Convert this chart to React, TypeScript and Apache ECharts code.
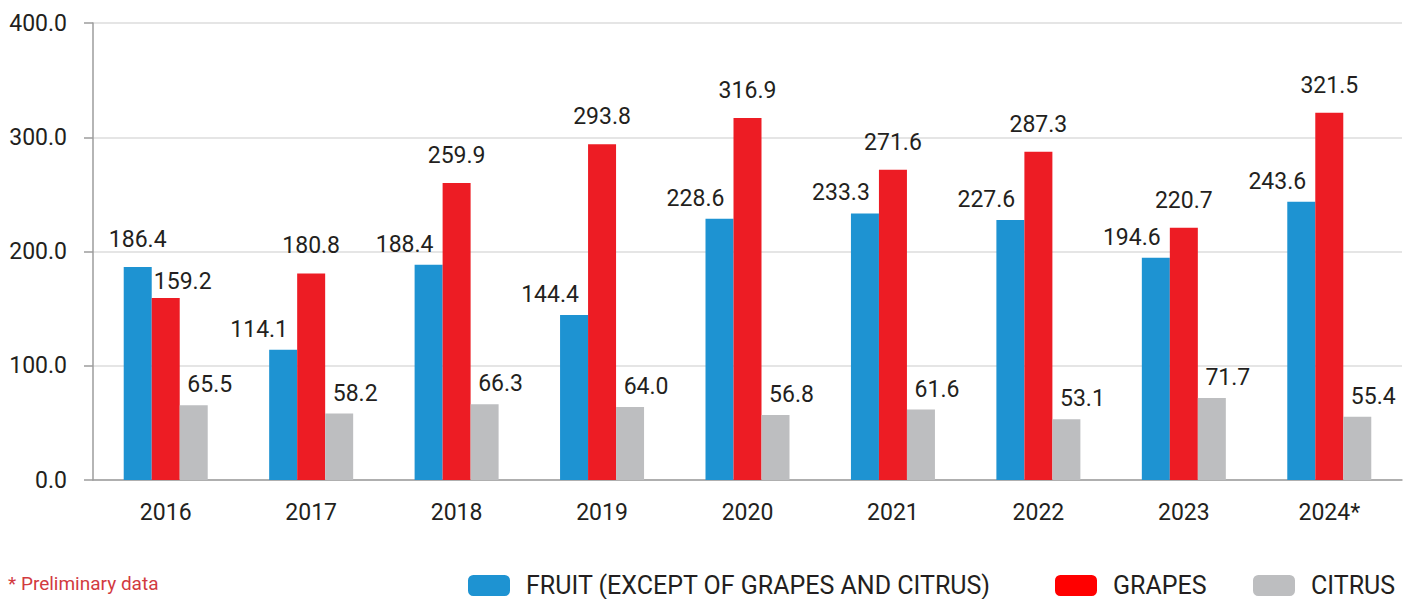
import React, { useEffect, useRef } from "react";
import * as echarts from "echarts";

const categories = ["2016", "2017", "2018", "2019", "2020", "2021", "2022", "2023", "2024*"];
const fruitValues = [186.4, 114.1, 188.4, 144.4, 228.6, 233.3, 227.6, 194.6, 243.6];
const grapesValues = [159.2, 180.8, 259.9, 293.8, 316.9, 271.6, 287.3, 220.7, 321.5];
const citrusValues = [65.5, 58.2, 66.3, 64.0, 56.8, 61.6, 53.1, 71.7, 55.4];
const seriesNames = ["FRUIT (EXCEPT OF GRAPES AND CITRUS)", "GRAPES", "CITRUS"];
const yTicks = { min: 0, max: 400, interval: 100 };
const footnote = "* Preliminary data";

const FONT = "Roboto, 'Noto Sans', sans-serif";
const TEXT = "#231f20";

export default function App() {
  const ref = useRef<HTMLDivElement>(null);

  useEffect(() => {
    document.body.style.margin = "0";
    if (!ref.current) return;
    const chart = echarts.init(ref.current, undefined, { renderer: "svg" });

    // label nudges for specific points (index -> offset)
    const fruitNudge: Record<number, number[]> = { 0: [0, -7] };
    const grapesNudge: Record<number, number[]> = { 0: [17, 11] };

    const mk = (vals: number[], nudge: Record<number, number[]>, base: number[]) =>
      vals.map((v, i) =>
        nudge[i] ? { value: v, label: { offset: nudge[i] } } : { value: v, label: { offset: base } }
      );

    const labelBase = {
      show: true,
      position: "top",
      fontFamily: FONT,
      fontSize: 23,
      color: TEXT,
      formatter: (p: any) => Number(p.value).toFixed(1),
    };

    const legendCommon = {
      bottom: -4,
      itemWidth: 42,
      itemHeight: 21,
      icon: "roundRect",
      textStyle: { fontFamily: FONT, fontSize: 25, color: TEXT, padding: [0, 0, 0, 11] },
    };

    chart.setOption({
      animation: false,
      backgroundColor: "#ffffff",
      grid: { left: 93, right: 9, top: 23, bottom: 119, containLabel: false },
      xAxis: {
        type: "category",
        data: categories,
        axisLine: { show: true, lineStyle: { color: "#9d9d9d", width: 1.5 } },
        axisTick: { show: false },
        axisLabel: { fontFamily: FONT, fontSize: 23, color: TEXT, margin: 21 },
      },
      yAxis: {
        type: "value",
        min: yTicks.min,
        max: yTicks.max,
        interval: yTicks.interval,
        axisLine: { show: true, lineStyle: { color: "#9d9d9d", width: 1.5 } },
        axisTick: { show: true, length: 9, lineStyle: { color: "#9d9d9d", width: 1.5 } },
        splitLine: { show: true, lineStyle: { color: "#dcdcdc", width: 1.5 } },
        axisLabel: {
          fontFamily: FONT,
          fontSize: 23,
          color: TEXT,
          margin: 26,
          formatter: (v: number) => v.toFixed(1),
        },
      },
      legend: [
        { ...legendCommon, left: 463, data: [{ name: seriesNames[0], itemStyle: { color: "#1e93d2" } }] },
        { ...legendCommon, left: 1050, data: [{ name: seriesNames[1], itemStyle: { color: "#ff0000" } }] },
        { ...legendCommon, left: 1248, data: [{ name: seriesNames[2], itemStyle: { color: "#bdbec0" } }] },
      ],
      graphic: [
        {
          type: "text",
          left: 8,
          top: 574,
          style: { text: footnote, fontFamily: FONT, fontSize: 19, fill: "#d23a3f" },
        },
      ],
      series: [
        {
          name: seriesNames[0],
          type: "bar",
          barWidth: 28,
          barGap: "0%",
          itemStyle: { color: "#1e93d2" },
          label: { ...labelBase, distance: 9 },
          data: mk(fruitValues, fruitNudge, [-24, 0]),
        },
        {
          name: seriesNames[1],
          type: "bar",
          barWidth: 28,
          barGap: "0%",
          itemStyle: { color: "#ed1c24" },
          label: { ...labelBase, distance: 16 },
          data: mk(grapesValues, grapesNudge, [0, 0]),
        },
        {
          name: seriesNames[2],
          type: "bar",
          barWidth: 28,
          barGap: "0%",
          itemStyle: { color: "#bdbec0" },
          label: { ...labelBase, distance: 9 },
          data: mk(citrusValues, {}, [16, 0]),
        },
      ],
    });

    return () => chart.dispose();
  }, []);

  return <div ref={ref} style={{ width: 1411, height: 599 }} />;
}
